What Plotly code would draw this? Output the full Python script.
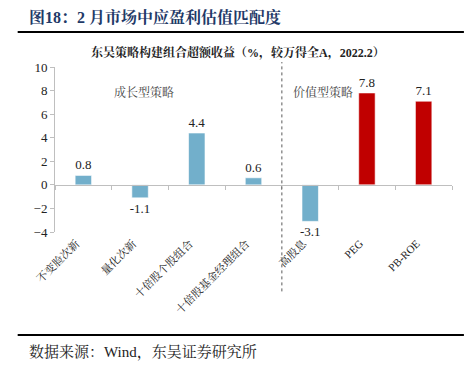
import plotly.graph_objects as go

categories = ["不变脸次新", "量化次新", "十倍股个股组合", "十倍股基金经理组合", "高股息", "PEG", "PB-ROE"]
values = [0.8, -1.1, 4.4, 0.6, -3.1, 7.8, 7.1]
bar_colors = ["#72AFCB", "#72AFCB", "#72AFCB", "#72AFCB", "#72AFCB", "#C00000", "#C00000"]
y_ticks = [-4, -2, 0, 2, 4, 6, 8, 10]
group_labels = ["成长型策略", "价值型策略"]

SERIF = "Liberation Serif, Noto Serif CJK SC, Noto Sans CJK SC, serif"

fig = go.Figure()
fig.add_trace(go.Bar(
    x=categories, y=values, marker=dict(color=bar_colors, line=dict(color="rgba(255,255,255,0.6)", width=1)),
    width=0.29, text=[f"{v:.1f}" for v in values], textposition="outside", constraintext="none",
    textfont=dict(family=SERIF, size=13, color="#222"), cliponaxis=False,
    showlegend=False, hoverinfo="skip",
))
# invisible trace for the zero-line axis with boundary ticks
fig.add_trace(go.Scatter(x=categories, y=[0]*len(categories), xaxis="x2", mode="markers",
                         marker=dict(opacity=0), showlegend=False, hoverinfo="skip"))

fig.update_layout(
    width=464, height=370,
    margin=dict(l=55, r=12, t=67, b=138),
    paper_bgcolor="white", plot_bgcolor="white",
    bargap=0.7,
    xaxis=dict(type="category", categoryorder="array", categoryarray=categories,
               range=[-0.5, 6.5], showline=False, ticks="", tickangle=-45,
               ticklabelshift=-7, ticklabelstandoff=2,
               tickfont=dict(family=SERIF, size=11, color="#222"), showgrid=False, zeroline=False),
    xaxis2=dict(type="category", categoryorder="array", categoryarray=categories,
                range=[-0.5, 6.5], overlaying="x", anchor="free", position=4/14,
                showline=True, linecolor="#BFBFBF", linewidth=1, ticks="outside",
                tickson="boundaries", ticklen=4, tickcolor="#BFBFBF",
                showticklabels=False, showgrid=False, zeroline=False),
    yaxis=dict(range=[-4, 10], tickvals=y_ticks, showline=True, linecolor="#BFBFBF",
               ticks="outside", ticklen=4, tickcolor="#BFBFBF", showgrid=False, zeroline=False,
               tickfont=dict(family=SERIF, size=13, color="#222")),
    shapes=[
        dict(type="line", xref="x", yref="paper", x0=3.5, x1=3.5, y0=-0.36, y1=1.03,
             line=dict(color="#595959", width=1, dash="dot")),
        dict(type="line", xref="paper", yref="paper", x0=-0.094, x1=1.03, y0=1.212, y1=1.212,
             line=dict(color="#000", width=2)),
        dict(type="line", xref="paper", yref="paper", x0=-0.094, x1=1.03, y0=-0.624, y1=-0.624,
             line=dict(color="#000", width=2)),
    ],
    annotations=[
        dict(text="<b>图18：2 月市场中应盈利估值匹配度</b>", xref="paper", yref="paper",
             x=-0.07, y=1.305, xanchor="left", yanchor="middle", showarrow=False,
             font=dict(family=SERIF, size=16, color="#1F3A68")),
        dict(text="<b>东吴策略构建组合超额收益（%，较万得全A，2022.2）</b>", xref="paper", yref="paper",
             x=0.46, y=1.09, xanchor="center", yanchor="middle", showarrow=False,
             font=dict(family=SERIF, size=12, color="#222")),
        dict(text=group_labels[0], xref="x", yref="y", x=1.07, y=7.8, showarrow=False,
             font=dict(family=SERIF, size=12, color="#444")),
        dict(text=group_labels[1], xref="x", yref="y", x=4.22, y=7.8, showarrow=False,
             font=dict(family=SERIF, size=12, color="#444")),
        dict(text="数据来源：Wind，东吴证券研究所", xref="paper", yref="paper",
             x=-0.07, y=-0.725, xanchor="left", yanchor="middle", showarrow=False,
             font=dict(family=SERIF, size=15, color="#222")),
    ],
)

fig.write_html("out.html", config={"displayModeBar": False},
               post_script="document.body.style.margin='0';")
